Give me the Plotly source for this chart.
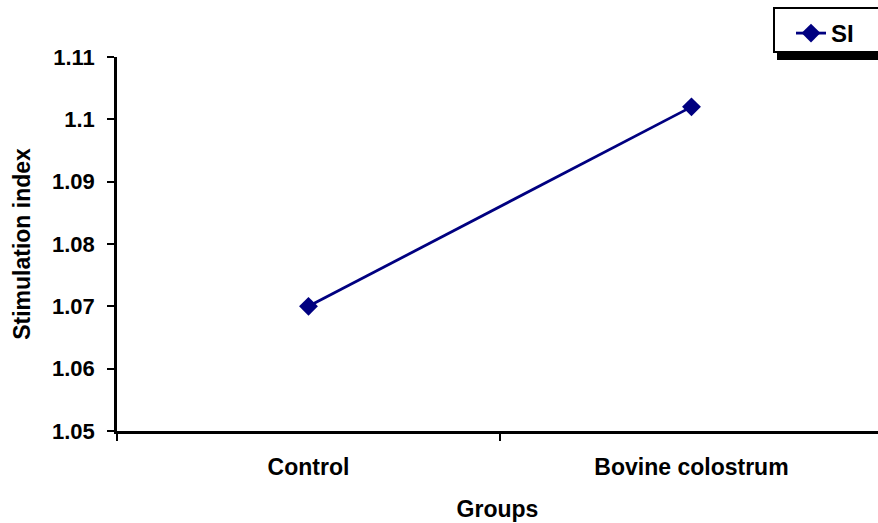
import plotly.graph_objects as go

groups = ["Control", "Bovine colostrum"]
si_values = [1.070, 1.102]
y_ticks = [1.05, 1.06, 1.07, 1.08, 1.09, 1.10, 1.11]
y_tick_text = ["1.05", "1.06", "1.07", "1.08", "1.09", "1.1", "1.11"]

FONT = "Liberation Sans, Arial, sans-serif"

# plot area in pixels (for placing legend box decorations)
L, R, T, B = 117, 878, 57, 431
def px(x):
    return (x - L) / (R - L)
def py(y):
    return (B - y) / (B - T)

fig = go.Figure()
fig.add_trace(go.Scatter(
    x=groups, y=si_values, mode="lines+markers", name="<b>SI</b>",
    line=dict(color="#000080", width=2.8),
    marker=dict(symbol="diamond", size=14.5, color="#000080"),
))

fig.update_layout(
    width=878, height=523,
    margin=dict(l=L, r=878 - R, t=T, b=523 - B),
    paper_bgcolor="white", plot_bgcolor="white",
    font=dict(family=FONT, size=20, color="black"),
    showlegend=True,
    legend=dict(
        x=px(791), y=py(11), xanchor="left", yanchor="top",
        bgcolor="rgba(0,0,0,0)", borderwidth=0,
        font=dict(family=FONT, size=24, color="black"),
    ),
    xaxis=dict(
        type="category", range=[-0.5, 1.487],
        showline=True, linecolor="black", linewidth=2.5,
        ticks="outside", tickson="boundaries", ticklen=7, tickwidth=2, tickcolor="black",
        showgrid=False, zeroline=False,
        ticklabelstandoff=14,
        tickfont=dict(family=FONT, size=23, color="black", weight="bold"),
        title=dict(text="<b>Groups</b>", font=dict(family=FONT, size=23), standoff=22),
    ),
    yaxis=dict(
        range=[1.05, 1.11], tickvals=y_ticks, ticktext=y_tick_text,
        showline=True, linecolor="black", linewidth=2.5,
        ticks="outside", ticklen=7, tickwidth=2, tickcolor="black",
        showgrid=False, zeroline=False,
        ticklabelstandoff=8,
        tickfont=dict(family=FONT, size=22, color="black", weight="bold"),
        title=dict(text="<b>Stimulation index</b>", font=dict(family=FONT, size=23), standoff=15),
    ),
)

# legend frame with drop shadow
fig.add_shape(type="rect", xref="paper", yref="paper",
              x0=px(777), x1=1.05, y0=py(60), y1=py(50),
              fillcolor="black", line=dict(width=0), layer="above")
fig.add_shape(type="rect", xref="paper", yref="paper",
              x0=px(774), x1=1.05, y0=py(52), y1=py(8),
              fillcolor="white", line=dict(color="black", width=2), layer="above")

fig.write_html("out.html")
